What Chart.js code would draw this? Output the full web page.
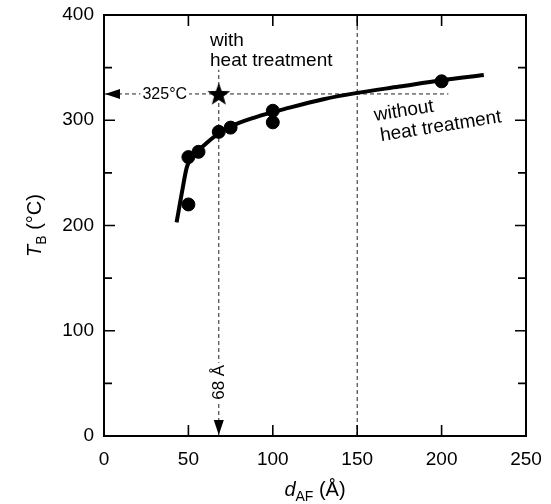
<!DOCTYPE html>
<html>
<head>
<meta charset="utf-8">
<script src="https://cdn.jsdelivr.net/npm/chart.js@4/dist/chart.umd.min.js"></script>
<style>
  html, body { margin: 0; padding: 0; background: #fff; }
  #wrap { width: 551px; height: 504px; }
</style>
</head>
<body>
<div id="wrap"><canvas id="tbChart"></canvas></div>
<script>
// measured points, without heat treatment
const dAF = [50, 50, 56, 68, 75, 100, 100, 200];
const tB = [220, 265, 270, 289, 293, 309, 298, 337];

// single sample with heat treatment
const dAFHeat = [68];
const tBHeat = [325];

// fitted curve
const curveD = [43, 46, 49, 52, 57, 65, 75, 90, 110, 130, 150, 175, 200, 225];
const curveT = [203, 230, 255, 266, 273, 284, 294, 303, 312, 320, 326, 332, 338, 343];

// guide lines
const guideTemp = 325;
const guideThick = 68;
const guideRight = 150;
const guideTempEnd = 204;
const guideThickTop = 348;

const xMin = 0, xMax = 250, xStep = 50;
const yMin = 0, yMax = 400, yStep = 100, yMinorStep = 50;

const FONT = "'Liberation Sans', Arial, Helvetica, sans-serif";

// filled five point star for the heat treated sample
function makeStar(outer, inner) {
    const size = Math.ceil(outer * 2 + 2);
    const c = document.createElement('canvas');
    c.width = size; c.height = size;
    const g = c.getContext('2d');
    const cx = size / 2, cy = size / 2 + 1;
    g.beginPath();
    for (let i = 0; i < 10; i++) {
        const r = i % 2 === 0 ? outer : inner;
        const a = -Math.PI / 2 + i * Math.PI / 5;
        const px = cx + r * Math.cos(a), py = cy + r * Math.sin(a);
        if (i === 0) g.moveTo(px, py); else g.lineTo(px, py);
    }
    g.closePath();
    g.fillStyle = '#000';
    g.fill();
    return c;
}
const starImg = makeStar(12, 5);

function pts(xs, ys) {
    return xs.map((x, i) => ({ x: x, y: ys[i] }));
}

function dashed(data) {
    return {
        type: 'line',
        data: data,
        borderColor: '#222',
        borderWidth: 1,
        borderDash: [4, 3],
        pointRadius: 0,
        fill: false,
        order: 5
    };
}

// text made of pieces with different fonts (italic symbol + subscript)
function drawRich(ctx, parts, x, y) {
    let total = 0;
    parts.forEach(p => { ctx.font = p.font; total += ctx.measureText(p.text).width; });
    let cx = x - total / 2;
    parts.forEach(p => {
        ctx.font = p.font;
        ctx.fillText(p.text, cx, y + (p.dy || 0));
        cx += ctx.measureText(p.text).width;
    });
}

const framePlugin = {
    id: 'frame',
    afterDatasetsDraw(chart) {
        const ctx = chart.ctx;
        const a = chart.chartArea;
        const xs = chart.scales.x, ys = chart.scales.y;
        ctx.save();
        ctx.strokeStyle = '#000';
        ctx.fillStyle = '#000';

        // box
        ctx.lineWidth = 2;
        ctx.strokeRect(a.left, a.top, a.right - a.left, a.bottom - a.top);

        // inward ticks
        ctx.lineWidth = 1.6;
        ctx.beginPath();
        for (let v = yMin + yMinorStep; v < yMax; v += yMinorStep) {
            const py = ys.getPixelForValue(v);
            const len = v % yStep === 0 ? 11 : 8;
            ctx.moveTo(a.left, py); ctx.lineTo(a.left + len, py);
            ctx.moveTo(a.right, py); ctx.lineTo(a.right - len, py);
        }
        for (let v = xMin + xStep; v < xMax; v += xStep) {
            const px = xs.getPixelForValue(v);
            ctx.moveTo(px, a.bottom); ctx.lineTo(px, a.bottom - 11);
            ctx.moveTo(px, a.top); ctx.lineTo(px, a.top + 11);
        }
        ctx.stroke();

        // arrow heads of the guide lines
        const ay = ys.getPixelForValue(guideTemp);
        ctx.beginPath();
        ctx.moveTo(a.left + 1, ay);
        ctx.lineTo(a.left + 16, ay - 5);
        ctx.lineTo(a.left + 16, ay + 5);
        ctx.closePath();
        ctx.fill();
        const ax = xs.getPixelForValue(guideThick);
        ctx.beginPath();
        ctx.moveTo(ax, a.bottom - 1);
        ctx.lineTo(ax - 5, a.bottom - 16);
        ctx.lineTo(ax + 5, a.bottom - 16);
        ctx.closePath();
        ctx.fill();

        // 325°C label breaking the dashed line
        ctx.font = '16px ' + FONT;
        ctx.textAlign = 'center';
        ctx.textBaseline = 'middle';
        const lx = xs.getPixelForValue(36);
        const lw = ctx.measureText(guideTemp + '°C').width;
        ctx.fillStyle = '#fff';
        ctx.fillRect(lx - lw / 2 - 2, ay - 8, lw + 4, 16);
        ctx.fillStyle = '#000';
        ctx.fillText(guideTemp + '°C', lx, ay + 1);

        // 68 Å label, vertical
        ctx.save();
        ctx.translate(ax, ys.getPixelForValue(51));
        ctx.rotate(-Math.PI / 2);
        ctx.font = '17px ' + FONT;
        const tw = ctx.measureText(guideThick + ' Å').width;
        ctx.fillStyle = '#fff';
        ctx.fillRect(-tw / 2 - 2, -8, tw + 4, 16);
        ctx.fillStyle = '#000';
        ctx.fillText(guideThick + ' Å', 0, 1);
        ctx.restore();

        // series notes
        ctx.textAlign = 'left';
        ctx.textBaseline = 'alphabetic';
        ctx.font = '19px ' + FONT;
        const nx = xs.getPixelForValue(62.8);
        ctx.fillText('with', nx, ys.getPixelForValue(370.5));
        ctx.fillText('heat treatment', nx, ys.getPixelForValue(351.4));

        ctx.save();
        ctx.translate(xs.getPixelForValue(160.5), ys.getPixelForValue(299.3));
        ctx.rotate(-9 * Math.PI / 180);
        ctx.fillText('without', 0, 0);
        ctx.fillText('heat treatment', 3, 21);
        ctx.restore();

        // axis titles
        ctx.textAlign = 'left';
        drawRich(ctx, [
            { text: 'd', font: 'italic 20px ' + FONT },
            { text: 'AF', font: '14px ' + FONT, dy: 5 },
            { text: ' (Å)', font: '20px ' + FONT }
        ], (a.left + a.right) / 2, 496);

        ctx.save();
        ctx.translate(41, (a.top + a.bottom) / 2);
        ctx.rotate(-Math.PI / 2);
        drawRich(ctx, [
            { text: 'T', font: 'italic 20px ' + FONT },
            { text: 'B', font: '14px ' + FONT, dy: 5 },
            { text: ' (°C)', font: '20px ' + FONT }
        ], 0, 0);
        ctx.restore();

        ctx.restore();
    }
};

const ctx = document.getElementById('tbChart').getContext('2d');
const tbChart = new Chart(ctx, {
    type: 'scatter',
    data: {
        datasets: [
            dashed([{ x: xMin, y: guideTemp }, { x: guideTempEnd, y: guideTemp }]),
            dashed([{ x: guideThick, y: yMin }, { x: guideThick, y: guideThickTop }]),
            dashed([{ x: guideRight, y: yMin }, { x: guideRight, y: yMax }]),
            {
                type: 'line',
                label: 'fit',
                data: pts(curveD, curveT),
                borderColor: '#000',
                borderWidth: 4,
                pointRadius: 0,
                cubicInterpolationMode: 'monotone',
                fill: false,
                order: 3
            },
            {
                label: 'without heat treatment',
                data: pts(dAF, tB),
                backgroundColor: '#000',
                borderColor: '#000',
                pointRadius: 6.5,
                order: 2
            },
            {
                label: 'with heat treatment',
                data: pts(dAFHeat, tBHeat),
                pointStyle: starImg,
                order: 1
            }
        ]
    },
    options: {
        responsive: true,
        maintainAspectRatio: false,
        animation: false,
        layout: { padding: { top: 15, right: 25, left: 0, bottom: 0 } },
        plugins: {
            legend: { display: false },
            tooltip: { enabled: false }
        },
        scales: {
            x: {
                type: 'linear',
                min: xMin,
                max: xMax,
                grid: { display: false, drawTicks: false },
                border: { display: false },
                ticks: {
                    stepSize: xStep,
                    padding: 12,
                    color: '#000',
                    font: { family: FONT, size: 19 }
                },
                afterFit: s => { s.height = 68; s.paddingLeft = 0; s.paddingRight = 0; }
            },
            y: {
                type: 'linear',
                min: yMin,
                max: yMax,
                grid: { display: false, drawTicks: false },
                border: { display: false },
                ticks: {
                    stepSize: yStep,
                    padding: 10,
                    color: '#000',
                    font: { family: FONT, size: 19 }
                },
                afterFit: s => { s.width = 104; s.paddingTop = 0; s.paddingBottom = 0; }
            }
        }
    },
    plugins: [framePlugin]
});
</script>
</body>
</html>
